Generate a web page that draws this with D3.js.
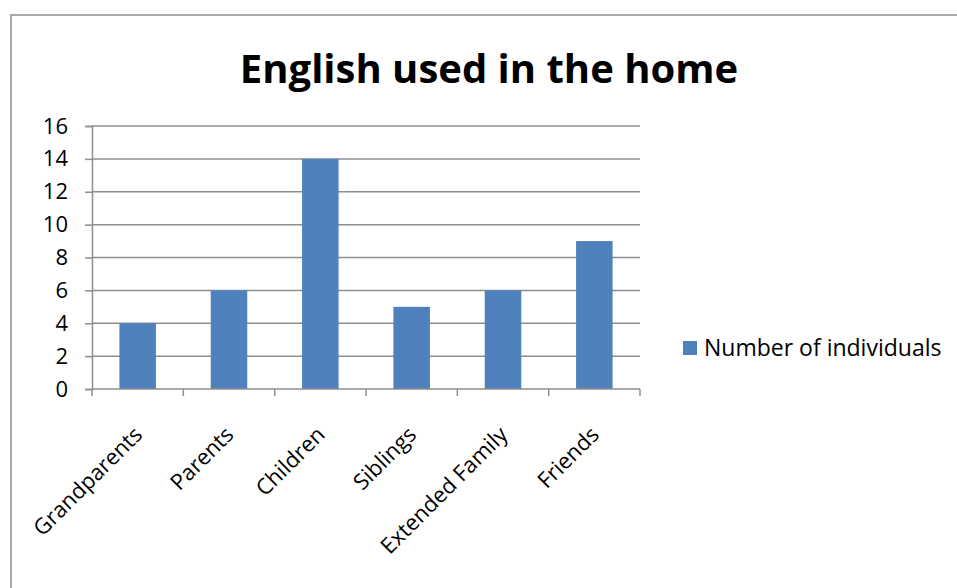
<!DOCTYPE html>
<html>
<head>
<meta charset="utf-8">
<script src="https://cdn.jsdelivr.net/npm/d3@7"></script>
<style>
  html, body { margin: 0; padding: 0; background: #fff; }
  svg { display: block; font-family: "Open Sans", "DejaVu Sans", sans-serif; }
</style>
</head>
<body>
<svg id="chart" width="957" height="588"></svg>
<script>
const title = "English used in the home";
const categories = ["Grandparents", "Parents", "Children", "Siblings", "Extended Family", "Friends"];
const values = [4, 6, 14, 5, 6, 9];
const seriesName = "Number of individuals";
const yTicks = [0, 2, 4, 6, 8, 10, 12, 14, 16];

const svg = d3.select("#chart");
const W = 957, H = 588;
const barColor = "#4F81BD";
const gridColor = "#8e8e8e";

// outer chart border
svg.append("rect")
  .attr("x", 11).attr("y", 15)
  .attr("width", W + 20).attr("height", H + 20)
  .attr("fill", "#fff").attr("stroke", "#a9a9a9").attr("stroke-width", 2);

const plot = { left: 92, right: 640, top: 126, bottom: 389 };

const x = d3.scaleBand().domain(categories).range([plot.left, plot.right]).paddingInner(0.6).paddingOuter(0.3);
const xTickScale = d3.scaleLinear().domain([0, categories.length]).range([plot.left, plot.right]);
const y = d3.scaleLinear().domain([0, 16]).range([plot.bottom, plot.top]);

// title
svg.append("text")
  .attr("x", 489).attr("y", 83)
  .attr("text-anchor", "middle")
  .attr("font-weight", "bold")
  .attr("font-size", 40)
  .attr("fill", "#000")
  .text(title);

// y axis ticks + labels
const yAxis = d3.axisLeft(y).tickValues(yTicks).tickSize(7).tickPadding(17).tickFormat(d3.format("d"));
const gy = svg.append("g").attr("transform", `translate(${plot.left},0)`).call(yAxis);
gy.select(".domain").attr("stroke", gridColor).attr("stroke-width", 1.5);
gy.selectAll(".tick line").attr("stroke", gridColor).attr("stroke-width", 1.5);
gy.selectAll(".tick text").attr("font-size", 22).attr("fill", "#000")
  .attr("font-family", "'Open Sans', sans-serif");

// gridlines
svg.append("g").selectAll("line").data(yTicks.filter(d => d > 0)).join("line")
  .attr("x1", plot.left).attr("x2", plot.right)
  .attr("y1", d => y(d)).attr("y2", d => y(d))
  .attr("stroke", gridColor).attr("stroke-width", 1.5);

// bars
svg.append("g").selectAll("rect").data(values).join("rect")
  .attr("x", (d, i) => x(categories[i]))
  .attr("width", x.bandwidth())
  .attr("y", d => y(d))
  .attr("height", d => y(0) - y(d))
  .attr("fill", barColor);

// x axis line + ticks between categories
const gx = svg.append("g");
gx.append("line").attr("x1", plot.left).attr("x2", plot.right)
  .attr("y1", plot.bottom).attr("y2", plot.bottom)
  .attr("stroke", gridColor).attr("stroke-width", 1.5);
gx.selectAll("line.tk").data(d3.range(categories.length + 1)).join("line")
  .attr("class", "tk")
  .attr("x1", d => xTickScale(d)).attr("x2", d => xTickScale(d))
  .attr("y1", plot.bottom).attr("y2", plot.bottom + 7)
  .attr("stroke", gridColor).attr("stroke-width", 1.5);

// x labels rotated
gx.selectAll("text").data(categories).join("text")
  .attr("transform", d => `translate(${x(d) + x.bandwidth() / 2 + 6},${plot.bottom + 47}) rotate(-45)`)
  .attr("text-anchor", "end")
  .attr("font-size", 22)
  .attr("fill", "#000")
  .text(d => d);

// legend
const lg = svg.append("g").attr("transform", "translate(683,341)");
lg.append("rect").attr("width", 14).attr("height", 14).attr("fill", barColor);
lg.append("text").attr("x", 21).attr("y", 15).attr("font-size", 23).attr("fill", "#000").text(seriesName);
</script>
</body>
</html>
